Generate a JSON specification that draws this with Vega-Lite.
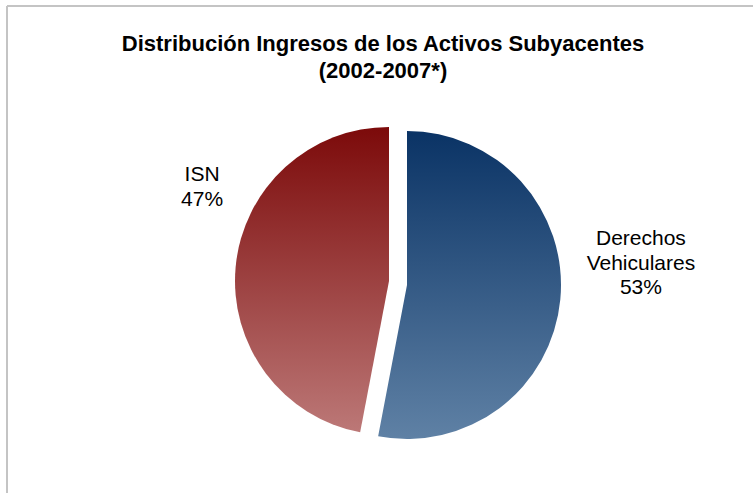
{
  "$schema": "https://vega.github.io/schema/vega-lite/v6.json",
  "width": 746,
  "height": 487,
  "autosize": {"type": "none"},
  "padding": {"left": 7, "top": 6, "right": 0, "bottom": 0},
  "background": "white",
  "view": {"stroke": "#c4c4c4", "strokeWidth": 2, "strokeDash": [746, 1233, 487, 0]},
  "config": {
    "view": {"stroke": "#c4c4c4", "strokeWidth": 2},
    "font": "Liberation Sans"
  },
  "title": {
    "text": ["Distribución Ingresos de los Activos Subyacentes", "(2002-2007*)"],
    "font": "Liberation Sans",
    "fontSize": 22,
    "fontWeight": "bold",
    "color": "#000000",
    "lineHeight": 27,
    "anchor": "middle",
    "dx": 3,
    "offset": -77
  },
  "data": {
    "values": [
      {"name": "Derechos Vehiculares", "label": "Derechos\nVehiculares\n53%", "pct": 53},
      {"name": "ISN", "label": "ISN\n47%", "pct": 47}
    ]
  },
  "layer": [
    {
      "mark": {
        "type": "arc",
        "radius": 154,
        "xOffset": {"expr": "datum.name == 'ISN' ? 9 : 27"},
        "yOffset": {"expr": "datum.name == 'ISN' ? 31.5 : 35.5"},
        "fill": {"expr": "datum.name == 'ISN' ? {gradient: 'linear', x1: 0, y1: 0, x2: 0, y2: 1, stops: [{offset: 0, color: '#7c0a0a'}, {offset: 1, color: '#bc7877'}]} : {gradient: 'linear', x1: 0, y1: 0, x2: 0, y2: 1, stops: [{offset: 0, color: '#0a3365'}, {offset: 1, color: '#5f81a5'}]}"}
      },
      "encoding": {
        "theta": {"field": "pct", "type": "quantitative", "stack": true}
      }
    },
    {
      "mark": {
        "type": "text",
        "radius": 244,
        "xOffset": 18,
        "yOffset": 33.5,
        "font": "Liberation Sans",
        "fontSize": 21,
        "lineHeight": 24.5,
        "lineBreak": "\n",
        "align": "center",
        "baseline": "middle",
        "color": "#000000",
        "dx": {"expr": "datum.name == 'ISN' ? 47 : 0"},
        "dy": {"expr": "datum.name == 'ISN' ? -85 : -66.5"}
      },
      "encoding": {
        "theta": {"field": "pct", "type": "quantitative", "stack": true},
        "text": {"field": "label", "type": "nominal"}
      }
    }
  ]
}
